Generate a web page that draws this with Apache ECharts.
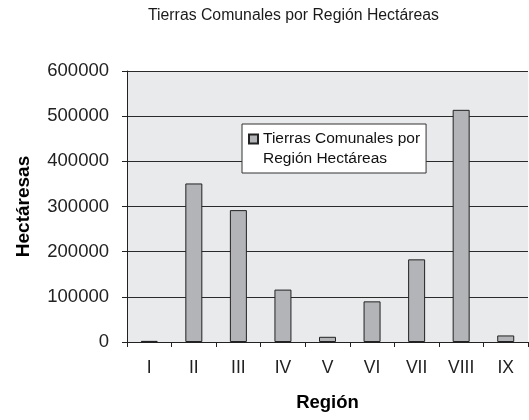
<!DOCTYPE html>
<html>
<head>
<meta charset="utf-8">
<script src="https://cdn.jsdelivr.net/npm/echarts@6/dist/echarts.min.js"></script>
<style>
html,body{margin:0;padding:0;background:#fff;}
#chart{width:529px;height:420px;}
</style>
</head>
<body>
<div id="chart"></div>
<script>
var titleText = 'Tierras Comunales por Región Hectáreas';
var seriesName = 'Tierras Comunales por\nRegión Hectáreas';
var categories = ['I', 'II', 'III', 'IV', 'V', 'VI', 'VII', 'VIII', 'IX'];
var hectareas = [2500, 351000, 292000, 116000, 11500, 90000, 183000, 514000, 14500];
var yMin = 0, yMax = 600000, yStep = 100000;
var xName = 'Región';
var yName = 'Hectáresas';

var FONT = "'Liberation Sans', Arial, sans-serif";
var chart = echarts.init(document.getElementById('chart'), null, {renderer: 'canvas'});
chart.setOption({
  animation: false,
  backgroundColor: '#ffffff',
  title: {
    text: titleText,
    left: 148,
    top: 8,
    padding: 0,
    textStyle: {fontFamily: FONT, fontSize: 15.8, fontWeight: 'normal', color: '#1a1a1a'}
  },
  legend: {
    show: true,
    left: 242,
    top: 124,
    orient: 'vertical',
    padding: [4, 6, 3, 6],
    backgroundColor: '#ffffff',
    borderColor: '#333333',
    borderWidth: 1,
    itemWidth: 9,
    itemHeight: 40,
    itemGap: 0,
    icon: 'path://M0,5.5h9v9h-9z M0,0 M9,40',
    textStyle: {fontFamily: FONT, fontSize: 15.5, color: '#111', lineHeight: 20},
    data: [seriesName]
  },
  grid: {
    left: 127, right: 1, top: 71, bottom: 78,
    show: true,
    backgroundColor: '#e9eaec',
    borderWidth: 0
  },
  xAxis: {
    type: 'category',
    data: categories,
    boundaryGap: true,
    name: xName,
    nameLocation: 'middle',
    nameGap: 51,
    nameTextStyle: {fontFamily: FONT, fontSize: 18.5, fontWeight: 'bold', color: '#000'},
    axisLine: {show: true, lineStyle: {color: '#222', width: 1}},
    axisTick: {show: true, length: 5, lineStyle: {color: '#222'}},
    axisLabel: {margin: 17, fontFamily: FONT, fontSize: 17.5, color: '#222'},
    splitLine: {show: false}
  },
  yAxis: {
    type: 'value',
    min: yMin, max: yMax, interval: yStep,
    name: yName,
    nameLocation: 'middle',
    nameGap: 94,
    nameTextStyle: {fontFamily: FONT, fontSize: 19, fontWeight: 'bold', color: '#000'},
    axisLine: {show: true, lineStyle: {color: '#222', width: 1}},
    axisTick: {show: true, length: 5, lineStyle: {color: '#222'}},
    axisLabel: {
      margin: 18, fontFamily: FONT, fontSize: 18.5, color: '#222',
      formatter: function (v) { return String(v); }
    },
    splitLine: {show: true, lineStyle: {color: '#2a2a2a', width: 1}}
  },
  series: [{
    name: seriesName,
    type: 'bar',
    data: hectareas,
    barWidth: 17,
    itemStyle: {color: '#b3b4b8', borderColor: '#222', borderWidth: 1}
  }]
});
</script>
</body>
</html>
